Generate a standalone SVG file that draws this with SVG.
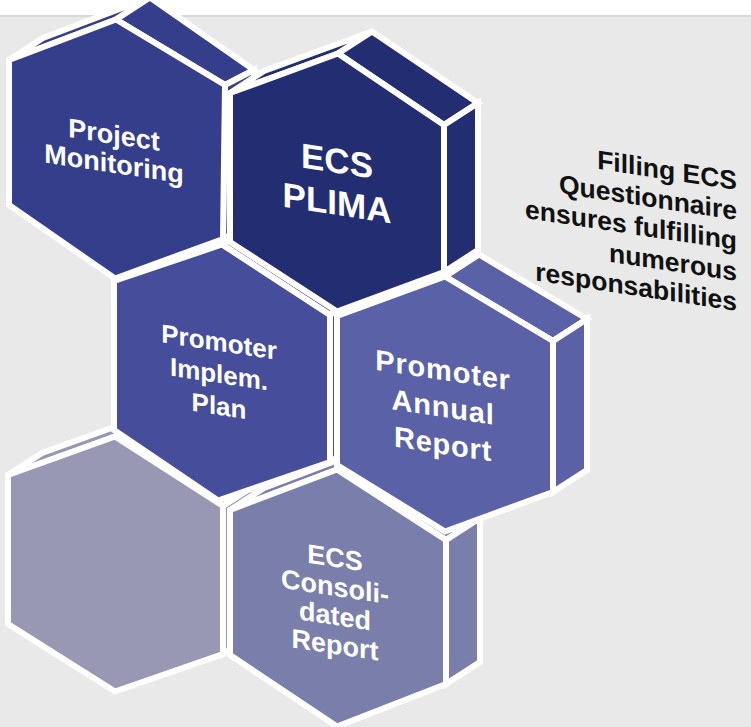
<svg xmlns="http://www.w3.org/2000/svg" width="751" height="727" viewBox="0 0 751 727">
<style>
.f{stroke:#fff;stroke-width:6;stroke-linejoin:miter;stroke-miterlimit:2.5}
.c1{fill:#343e8a}.c2{fill:#232d71}.c3{fill:#464e9c}.c4{fill:#5b61a6}.c5{fill:#9898b4}.c6{fill:#7a7eab}
.lbl{font-family:"Liberation Sans",Arial,sans-serif;font-weight:bold;fill:#fff;text-anchor:middle}
.side{font-family:"Liberation Sans",Arial,sans-serif;font-weight:bold;fill:#111;text-anchor:end;font-size:26.5px}
</style>
<rect x="0" y="0" width="751" height="727" fill="#e9e9e9"/>
<rect x="0" y="0" width="751" height="15" fill="#fff"/>
<rect x="0" y="15" width="751" height="2" fill="#d9d9d9"/>

<g id="hex5">
<polygon class="f c5" points="8,475 115,436.5 149,414.5 42,453"/>
<polygon class="f c5" points="115,436.5 223,506 257,484 149,414.5"/>
<polygon class="f c5" points="223,506 223,654 257,632 257,484"/>
<polygon class="f c5" points="8,475 115,436.5 223,506 223,654 115,691.5 8,624"/>
</g>

<g id="hex3">
<polygon class="f c3" points="114,281 222,244.5 256,222.5 148,259"/>
<polygon class="f c3" points="222,244.5 330,315 364,293 256,222.5"/>
<polygon class="f c3" points="330,315 330,462 364,440 364,293"/>
<polygon class="f c3" points="114,281 222,244.5 330,315 330,462 218,500.5 114,430"/>
<g transform="translate(219,351) skewY(8.6)">
<text class="lbl" font-size="26" x="0" y="0">Promoter</text>
<text class="lbl" font-size="26" x="0" y="32">Implem.</text>
<text class="lbl" font-size="26" x="0" y="64">Plan</text>
</g>
</g>

<g id="hex6">
<polygon class="f c6" points="230,510 337,469.5 371,447.5 264,488"/>
<polygon class="f c6" points="337,469.5 446,540 480,518 371,447.5"/>
<polygon class="f c6" points="446,540 446,684 480,662 480,518"/>
<polygon class="f c6" points="230,510 337,469.5 446,540 446,684 337,726.5 230,655"/>
<g transform="translate(335,567) skewY(8.6)">
<text class="lbl" font-size="27" x="0" y="0">ECS</text>
<text class="lbl" font-size="27" x="0" y="29">Consoli-</text>
<text class="lbl" font-size="27" x="0" y="58">dated</text>
<text class="lbl" font-size="27" x="0" y="87">Report</text>
</g>
</g>

<g id="hex1">
<polygon class="f c1" points="9,60 116,19.5 150,-2.5 43,38"/>
<polygon class="f c1" points="116,19.5 225,85 254,70 150,-2.5"/>
<polygon class="f c1" points="225,85 223,239 252,222 254,70"/>
<polygon class="f c1" points="9,60 116,19.5 225,85 223,239 115,278.5 9,205"/>
<g transform="translate(114,144) skewY(8.6)">
<text class="lbl" font-size="27" x="0" y="0">Project</text>
<text class="lbl" font-size="27" x="0" y="29">Monitoring</text>
</g>
</g>

<g id="hex4">
<polygon class="f c4" points="337,316 445,276.5 479,254.5 371,294"/>
<polygon class="f c4" points="445,276.5 553,341 587,319 479,254.5"/>
<polygon class="f c4" points="553,341 553,492 587,470 587,319"/>
<polygon class="f c4" points="337,316 445,276.5 553,341 553,492 445,531.5 337,465"/>
<g transform="translate(443,380) skewY(8.6)">
<text class="lbl" font-size="29" letter-spacing="0.8" x="0" y="0">Promoter</text>
<text class="lbl" font-size="29" letter-spacing="0.8" x="0" y="37">Annual</text>
<text class="lbl" font-size="29" letter-spacing="0.8" x="0" y="74">Report</text>
</g>
</g>

<g id="hex2">
<polygon class="f c2" points="230,93 338,53.5 372,31.5 264,71"/>
<polygon class="f c2" points="338,53.5 444,125 478,103 372,31.5"/>
<polygon class="f c2" points="444,125 444,272 478,250 478,103"/>
<polygon class="f c2" points="230,93 338,53.5 444,125 444,272 337,311.5 230,242"/>
<g transform="translate(337,173) skewY(8.6)">
<text class="lbl" font-size="35" x="0" y="0">ECS</text>
<text class="lbl" font-size="35" x="0" y="42">PLIMA</text>
</g>
</g>

<g id="note" transform="translate(737,190) skewY(8.6)">
<text class="side" x="0" y="0">Filling ECS</text>
<text class="side" x="0" y="30">Questionnaire</text>
<text class="side" x="0" y="60">ensures fulfilling</text>
<text class="side" x="0" y="91">numerous</text>
<text class="side" x="0" y="121">responsabilities</text>
</g>
</svg>
